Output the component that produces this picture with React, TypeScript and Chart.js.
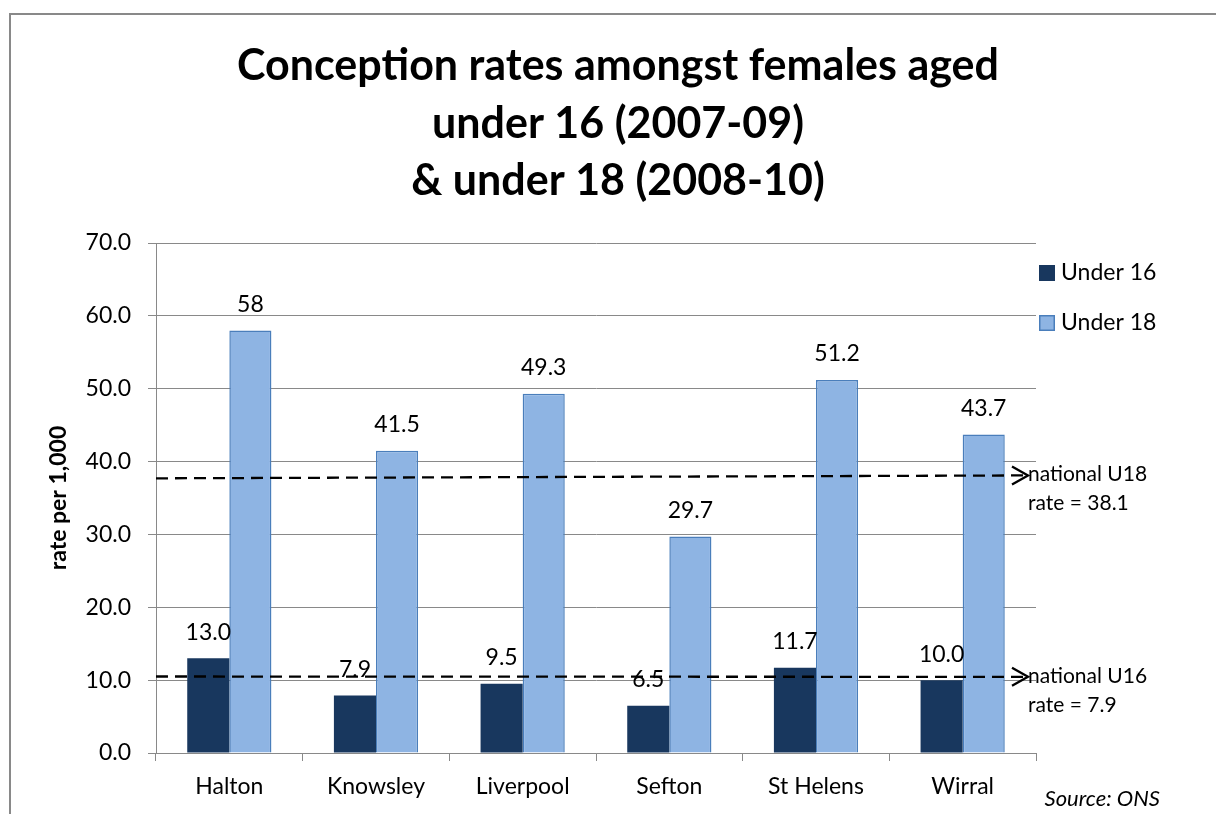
import React, { useEffect, useRef } from "react";
import { Chart, registerables } from "chart.js";

Chart.register(...registerables);

const categories = ["Halton", "Knowsley", "Liverpool", "Sefton", "St Helens", "Wirral"];
const under16 = [13.0, 7.9, 9.5, 6.5, 11.7, 10.0];
const under18 = [58, 41.5, 49.3, 29.7, 51.2, 43.7];
const seriesNames = ["Under 16", "Under 18"];
const titleLines = ["Conception rates amongst females aged", "under 16 (2007-09)", "& under 18 (2008-10)"];
const yAxisTitle = "rate per 1,000";
const yMin = 0;
const yMax = 70;
const yStep = 10;
// national reference lines as drawn in the picture (start / end level on the y scale)
const nationalLineStart = [37.7, 10.5];
const nationalLineEnd = [38.1, 10.45];
const nationalText = [
  ["national U18", "rate = 38.1"],
  ["national U16", "rate = 7.9"],
];
const sourceNote = "Source: ONS";

const DARK = "#18375E";
const LIGHT = "#8EB4E3";
const LIGHT_BORDER = "#4A7EBB";
const GRID = "#898989";
const FONT = "Lato";

const fmt16 = (v: number) => v.toFixed(1);
const fmt18 = (v: number) => String(v);

const decorPlugin = {
  id: "decor",
  afterDatasetsDraw(chart: any) {
    const { ctx, chartArea, scales } = chart;
    const y = scales.y;
    ctx.save();
    // data labels
    ctx.font = `23px ${FONT}`;
    ctx.fillStyle = "#000";
    ctx.textAlign = "center";
    ctx.textBaseline = "middle";
    chart.data.datasets.forEach((ds: any, di: number) => {
      const meta = chart.getDatasetMeta(di);
      meta.data.forEach((el: any, i: number) => {
        const v = ds.data[i];
        const txt = di === 0 ? fmt16(v) : fmt18(v);
        ctx.fillText(txt, el.x, el.y - 26);
      });
    });
    // national dashed lines with open arrowheads
    const tipX = chartArea.right - 8;
    nationalLineStart.forEach((sv, i) => {
      const y0 = y.getPixelForValue(sv);
      const y1 = y.getPixelForValue(nationalLineEnd[i]);
      ctx.strokeStyle = "#000";
      ctx.lineWidth = 2.3;
      ctx.setLineDash([12, 7]);
      ctx.beginPath();
      ctx.moveTo(chartArea.left, y0);
      ctx.lineTo(tipX, y1);
      ctx.stroke();
      ctx.setLineDash([]);
      ctx.beginPath();
      ctx.moveTo(tipX - 16, y1 - 9);
      ctx.lineTo(tipX, y1);
      ctx.lineTo(tipX - 16, y1 + 9);
      ctx.stroke();
      ctx.font = `21px ${FONT}`;
      ctx.fillStyle = "#000";
      ctx.textAlign = "left";
      ctx.textBaseline = "middle";
      ctx.fillText(nationalText[i][0], tipX, y1 - 1);
      ctx.fillText(nationalText[i][1], tipX, y1 + 28);
    });
    ctx.restore();
  },
  afterDraw(chart: any) {
    const { ctx, chartArea, width, height } = chart;
    ctx.save();
    // outer frame
    ctx.strokeStyle = GRID;
    ctx.lineWidth = 2;
    ctx.beginPath();
    ctx.moveTo(10, height + 5);
    ctx.lineTo(10, 14);
    ctx.lineTo(width + 5, 14);
    ctx.stroke();
    // title
    ctx.fillStyle = "#000";
    ctx.textAlign = "center";
    ctx.textBaseline = "alphabetic";
    ctx.font = `bold 43px ${FONT}`;
    titleLines.forEach((t, i) => ctx.fillText(t, 618, 80 + i * 57.5));
    // y axis title
    ctx.save();
    ctx.translate(59, 498);
    ctx.rotate(-Math.PI / 2);
    ctx.font = `bold 23px ${FONT}`;
    ctx.textBaseline = "middle";
    ctx.fillText(yAxisTitle, 0, 0);
    ctx.restore();
    // legend
    const lx = chartArea.right + 3;
    const legendY = [273, 323];
    ctx.font = `23px ${FONT}`;
    ctx.textAlign = "left";
    ctx.textBaseline = "middle";
    seriesNames.forEach((name, i) => {
      const cy = legendY[i];
      if (i === 0) {
        ctx.fillStyle = DARK;
        ctx.fillRect(lx, cy - 8, 16, 16);
      } else {
        ctx.fillStyle = LIGHT;
        ctx.fillRect(lx, cy - 8, 16, 16);
        ctx.strokeStyle = LIGHT_BORDER;
        ctx.lineWidth = 1.5;
        ctx.strokeRect(lx + 0.75, cy - 7.25, 14.5, 14.5);
      }
      ctx.fillStyle = "#000";
      ctx.fillText(name, lx + 22, cy);
    });
    // source note
    ctx.font = `italic 22px ${FONT}`;
    ctx.textAlign = "right";
    ctx.fillText(sourceNote, 1160, 799);
    ctx.restore();
  },
};

export default function App() {
  const ref = useRef<HTMLCanvasElement | null>(null);
  useEffect(() => {
    if (!ref.current) return;
    const chart = new Chart(ref.current, {
      type: "bar",
      data: {
        labels: categories,
        datasets: [
          {
            label: seriesNames[0],
            data: under16,
            backgroundColor: DARK,
            borderWidth: 0,
            categoryPercentage: 0.574,
            barPercentage: 1,
          },
          {
            label: seriesNames[1],
            data: under18,
            backgroundColor: LIGHT,
            borderColor: LIGHT_BORDER,
            borderWidth: 1.5,
            categoryPercentage: 0.574,
            barPercentage: 1,
          },
        ],
      },
      options: {
        responsive: false,
        animation: false,
        layout: { padding: { left: 0, top: 243, right: 180, bottom: 0 } },
        plugins: {
          legend: { display: false },
          title: { display: false },
          tooltip: { enabled: false },
        },
        scales: {
          x: {
            afterFit: (s: any) => {
              s.height = 61;
            },
            grid: {
              display: true,
              drawOnChartArea: false,
              drawTicks: true,
              tickLength: 8,
              color: GRID,
              offset: true,
            },
            border: { display: true, color: GRID, width: 1 },
            ticks: { color: "#000", font: { family: FONT, size: 23 }, padding: 12 },
          },
          y: {
            min: yMin,
            max: yMax,
            afterFit: (s: any) => {
              s.width = 156;
            },
            grid: { color: GRID, tickLength: 8, drawTicks: true },
            border: { display: true, color: GRID, width: 1 },
            ticks: {
              stepSize: yStep,
              color: "#000",
              font: { family: FONT, size: 23 },
              padding: 17,
              callback: (v: any) => Number(v).toFixed(1),
            },
          },
        },
      },
      plugins: [decorPlugin],
    });
    return () => chart.destroy();
  }, []);
  return (
    <div style={{ position: "absolute", left: 0, top: 0, width: 1216, height: 814, background: "#fff" }}>
      <canvas ref={ref} width={1216} height={814} />
    </div>
  );
}
